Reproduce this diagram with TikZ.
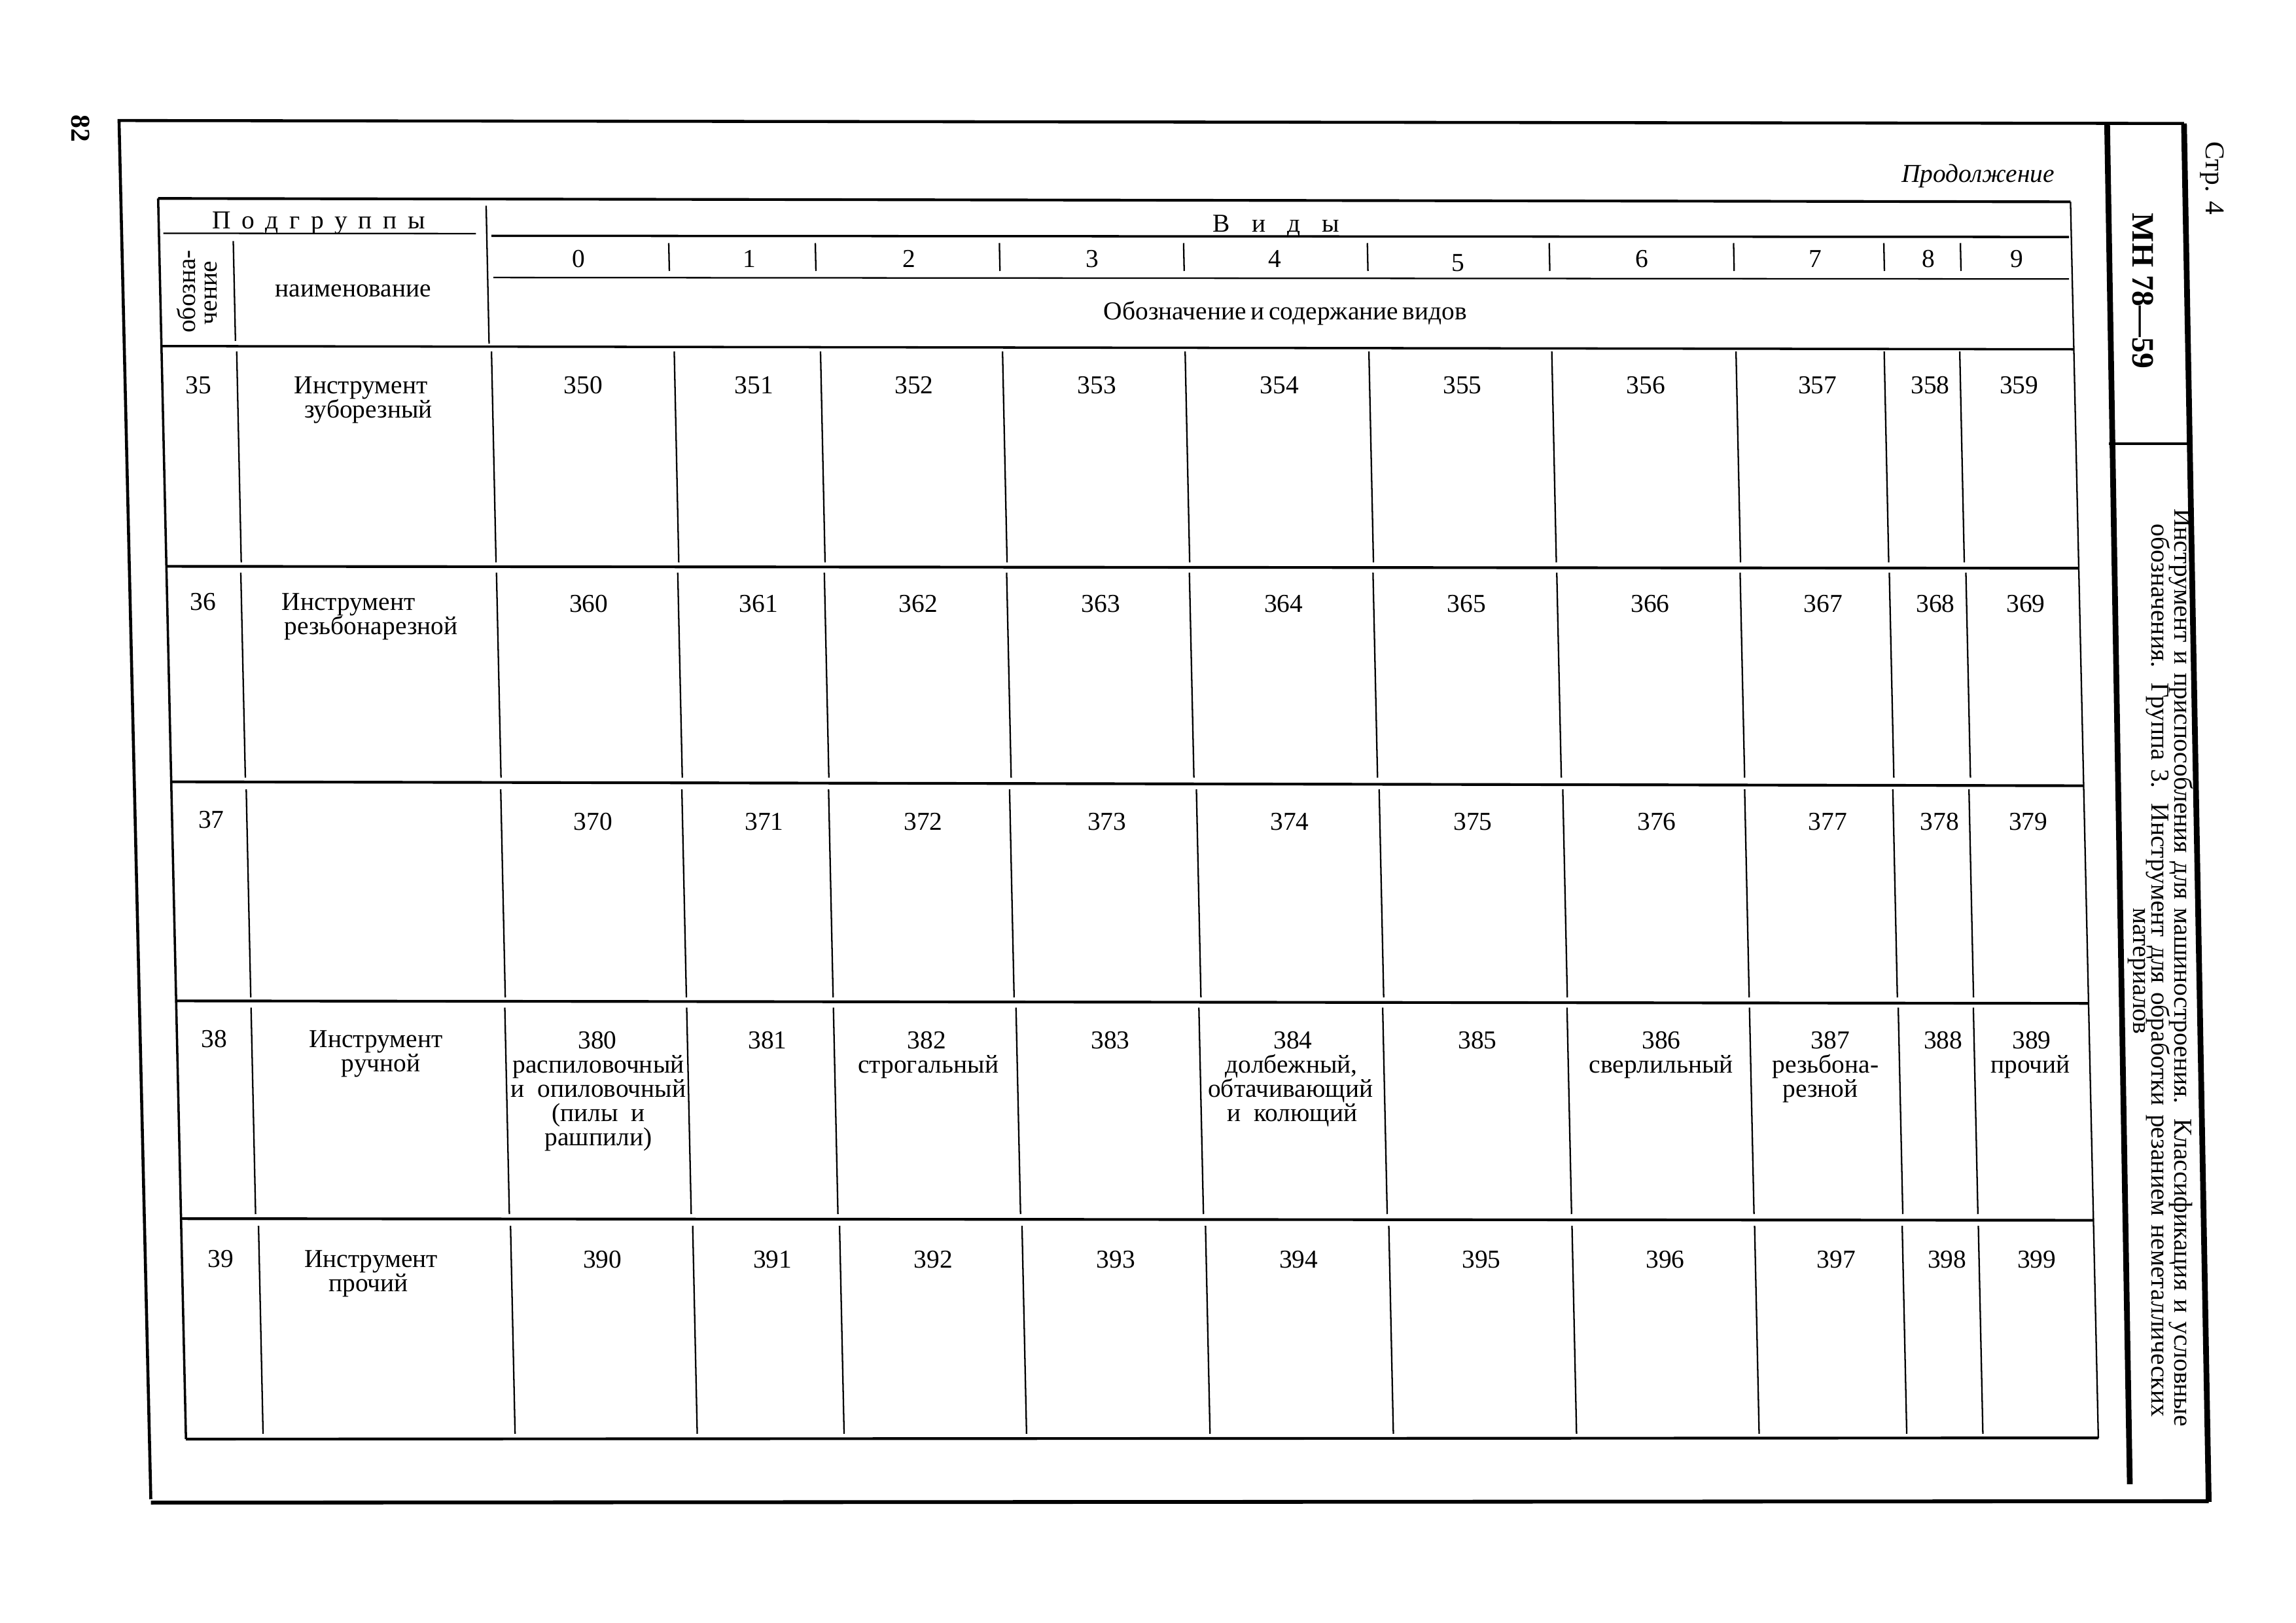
\documentclass[tikz,border=0pt]{standalone}
\usepackage{fontspec}
\setmainfont{Liberation Serif}
\newcommand\tabfont{\fontsize{9.5}{8.9}\selectfont}
\begin{document}
\begin{tikzpicture}[x=0.018941cm,y=-0.018941cm,
  every node/.style={inner sep=0pt,outer sep=0pt},
  t/.style={font=\tabfont,anchor=base},
  rt/.style={font=\tabfont,anchor=center},
  framel/.style={line width=1.1pt},
  stripl/.style={line width=2.1pt},
  rowl/.style={line width=1.0pt},
  coll/.style={line width=0.55pt},
  thinl/.style={line width=0.55pt},
  medl/.style={line width=0.85pt}]
\useasboundingbox (0,0) rectangle (1568,1108);

% ---------- outer frame ----------
\draw[framel] (103,1023.6) -- (81.3,82.3) -- (1491.5,84.3);
\draw[line width=1.4pt] (103,1026) -- (1508.4,1025);
\draw[stripl] (1491.5,84.3) -- (1508.4,1025.5);
\draw[stripl] (1439,85) -- (1454.5,1013.4);
\draw[medl] (1440,303) -- (1495,303);

% ---------- page texts ----------
\node[rt,font=\fontsize{10}{10}\selectfont\bfseries,rotate=-90] (pg) at (54.9,87.9) {82};
\node[rt,font=\fontsize{10}{10}\selectfont,rotate=-90] (str) at (1510.6,121.7) {Стр. 4};
\node[rt,font=\fontsize{11.5}{12}\selectfont\bfseries,rotate=-90] (mn) at (1463.7,198.7) {МН 78—59};
\node[rt,rotate=-90] (title1) at (1489.3,660.7) {\makebox[337.7pt][s]{Инструмент и приспособления для машиностроения. Классификация и условные}};
\node[rt,rotate=-90] (title2) at (1474,662.5) {\makebox[328.5pt][s]{обозначения. Группа 3. Инструмент для обработки резанием неметаллических}};
\node[rt,rotate=-90] (title3) at (1459,663) {материалов};
\node[rt,font=\tabfont\itshape] (prod) at (1350.9,120) {Продолжение};

% ---------- table outline ----------
\draw[rowl] (108,135.5) -- (1414,137.8);
\draw[medl] (108,135.5) -- (127,982.6);
\draw[coll] (1414,137.8) -- (1433,982);
\draw[rowl] (127,982.6) -- (1433,981.8);
\draw[medl] (110.3,236.3) -- (1416.3,238.5);
\draw[rowl] (113.6,386.7) -- (1419.6,388);
\draw[rowl] (116.9,533.8) -- (1422.9,536.5);
\draw[rowl] (120.3,683.4) -- (1426.3,685.1);
\draw[rowl] (123.6,832.1) -- (1429.6,833.2);

% ---------- header lines ----------
\draw[thinl] (111.5,159.3) -- (325,159.5);
\draw[coll] (332,140.5) -- (334,234.6);
\draw[medl] (335.6,161) -- (1413,161.8);
\draw[thinl] (337,189.5) -- (1413,190.5);
\draw[coll] (159.3,164.6) -- (160.8,232.8);
\foreach \x in {456.7,556.8,682.5,808.3,933.8,1058,1183.9,1286.5,1338.8}
  \draw[coll] (\x,166) -- (\x+0.4,185);

% ---------- header texts ----------
\node[t] (podgr) at (217.6,156) {\makebox[78.4pt][s]{П о д г р у п п ы}};
\node[t] (vidy) at (871.6,158.5) {\makebox[46.6pt][s]{В и д ы}};
\foreach \d/\x in {0/395.3,1/511.6,2/620.9,3/746,4/870.8,6/1121.2,7/1239.8,8/1316.8,9/1377.3}
  \node[t] (h\d) at (\x,182.5) {\d};
\node[t] (h5) at (995.6,185) {5};
\node[t] (naim) at (241.3,202.7) {наименование};
\node[t] (oboz) at (874,218.5) {\makebox[129.5pt][s]{Обозначение и содержание видов}};
\node[rt,rotate=90] (obz1) at (127,199) {обозна-};
\node[rt,rotate=90] (obz2) at (144,200) {чение};

% ---------- column lines per row ----------
\foreach \yt/\yb/\xs in {
  240/384/{163.2,337.2,462,561.9,686.2,810.9,936.4,1061.3,1187.1,1288.3,1339.9},
  391/531/{166,340.6,464.4,564.5,689,813.8,939.2,1064.7,1189.9,1291.8,1344.1},
  539/681/{169.7,343.5,467.2,567.4,691,818.6,943.4,1068.8,1193,1294.2,1346.2},
  688/829/{173,346.3,470.5,570.7,695.4,820.3,945.8,1071.7,1196.3,1297.9,1349.2},
  837/979/{178.1,350.2,474.6,574.9,699.5,824.8,950,1075.1,1199.8,1300.6,1352.6}}
{
  \foreach \x in \xs
    \draw[coll] ({\x-1.55},\yt) -- ({\x+1.55},\yb);
}

% ---------- row numbers ----------
\node[t] (n35) at (135.4,269) {35};
\node[t] (n36) at (138.8,416.6) {36};
\node[t] (n37) at (144.3,565.5) {37};
\node[t] (n38) at (146.3,715) {38};
\node[t] (n39) at (150.8,865.5) {39};

% ---------- names ----------
\node[t] (a35) at (246.5,269) {Инструмент};
\node[t] (b35) at (251.6,285.5) {зуборезный};
\node[t] (a36) at (238,416.5) {Инструмент};
\node[t] (b36) at (253.4,433) {резьбонарезной};
\node[t] (a38) at (256.8,715) {Инструмент};
\node[t] (b38) at (260.2,731.5) {ручной};
\node[t] (a39) at (253.4,865.5) {Инструмент};
\node[t] (b39) at (251.6,882) {прочий};

% ---------- values ----------
\foreach \d/\x in {0/398.4,1/515,2/624.3,3/749,4/873.8,5/998.7,6/1123.9,7/1241.2,8/1318.2,9/1378.8}
  \node[t] (v35\d) at (\x,269) {35\d};
\foreach \d/\x in {0/402,1/518,2/627,3/751.8,4/876.6,5/1001.5,6/1127,7/1245,8/1321.8,9/1383.4}
  \node[t] (v36\d) at (\x,418) {36\d};
\foreach \d/\x in {0/405,1/521.9,2/630.5,3/755.9,4/880.7,5/1005.9,6/1131.4,7/1248.3,8/1324.6,9/1385.1}
  \node[t] (v37\d) at (\x,567) {37\d};
\foreach \d/\x in {0/408,1/524.2,2/632.9,3/758.3,4/883,5/1009,6/1134.5,7/1250,8/1327,9/1387.5}
  \node[t] (v38\d) at (\x,716) {38\d};
\foreach \d/\x in {0/411.4,1/527.6,2/637.3,3/762,4/886.9,5/1011.7,6/1137.2,7/1254.1,8/1329.7,9/1390.9}
  \node[t] (v39\d) at (\x,865.6) {39\d};

% ---------- row 38 descriptions ----------
\node[t] (d380a) at (408.7,732.5) {распиловочный};
\node[t] (d380b) at (408.7,749) {и\ \ опиловочный};
\node[t] (d380c) at (408.7,765.5) {(пилы\ \ и};
\node[t] (d380d) at (408.7,782) {рашпили)};
\node[t] (d382a) at (634,732.5) {строгальный};
\node[t] (d384a) at (882,732.5) {долбежный,};
\node[t] (d384b) at (881.3,749) {обтачивающий};
\node[t] (d384c) at (882.5,765.5) {и\ \ колющий};
\node[t] (d386a) at (1134.5,732.5) {сверлильный};
\node[t] (d387a) at (1246.6,732.5) {резьбона-};
\node[t] (d387b) at (1243.2,749) {резной};
\node[t] (d389a) at (1386.6,732.5) {прочий};
\end{tikzpicture}
\end{document}
